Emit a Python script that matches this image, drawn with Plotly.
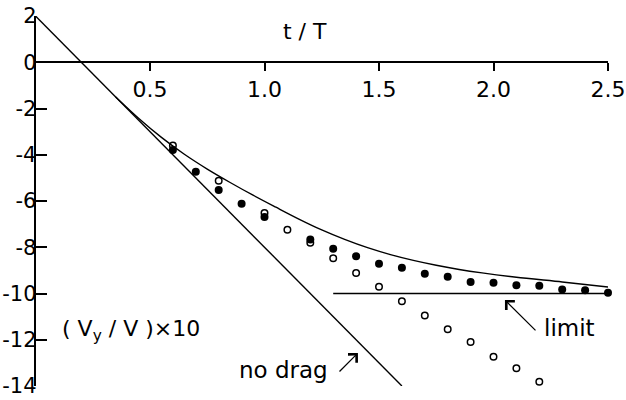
import plotly.graph_objects as go

# ---- data ----
curve_t = [0.35, 0.45, 0.55, 0.65, 0.75, 0.85, 0.95, 1.05, 1.15, 1.25, 1.35, 1.45,
           1.55, 1.65, 1.75, 1.85, 1.95, 2.1, 2.3, 2.5]
curve_v = [-1.5, -2.42, -3.25, -3.98, -4.62, -5.2, -5.75, -6.27, -6.78, -7.25, -7.66, -8.02,
           -8.32, -8.57, -8.78, -8.96, -9.11, -9.3, -9.5, -9.72]

filled_t = [0.6, 0.7, 0.8, 0.9, 1.0, 1.2, 1.3, 1.4, 1.5, 1.6, 1.7, 1.8, 1.9, 2.0,
            2.1, 2.2, 2.3, 2.4, 2.5]
filled_v = [-3.79, -4.73, -5.52, -6.12, -6.69, -7.67, -8.07, -8.39, -8.71, -8.89, -9.15,
            -9.28, -9.50, -9.54, -9.64, -9.66, -9.83, -9.86, -9.97]

open_t = [0.6, 0.8, 1.0, 1.1, 1.2, 1.3, 1.4, 1.5, 1.6, 1.7, 1.8, 1.9, 2.0, 2.1, 2.2]
open_v = [-3.6, -5.12, -6.52, -7.24, -7.81, -8.48, -9.11, -9.71, -10.33, -10.95, -11.55,
          -12.1, -12.73, -13.23, -13.82]

nodrag_t = [0.0, 1.6]
nodrag_v = [2.0, -14.0]

limit_t = [1.3, 2.5]
limit_v = [-10.0, -10.0]

x_ticks = [0.5, 1.0, 1.5, 2.0, 2.5]
x_tick_labels = ["0.5", "1.0", "1.5", "2.0", "2.5"]
y_ticks = [2, 0, -2, -4, -6, -8, -10, -12, -14]
y_tick_labels = ["2", "0", "-2", "-4", "-6", "-8", "-10", "-12", "-14"]

FONT = "DejaVu Sans"
W, H = 626, 400

fig = go.Figure()
fig.add_trace(go.Scatter(x=nodrag_t, y=nodrag_v, mode="lines", line=dict(color="black", width=1.4),
                         cliponaxis=False, showlegend=False, hoverinfo="skip"))
# limit line drawn against the overlay axis (same range) so that axis carries the tick labels
fig.add_trace(go.Scatter(x=limit_t, y=limit_v, mode="lines", line=dict(color="black", width=1.6),
                         yaxis="y2", cliponaxis=False, showlegend=False, hoverinfo="skip"))
fig.add_trace(go.Scatter(x=curve_t, y=curve_v, mode="lines",
                         line=dict(color="black", width=1.4, shape="spline", smoothing=0.8),
                         cliponaxis=False, showlegend=False, hoverinfo="skip"))
fig.add_trace(go.Scatter(x=open_t, y=open_v, mode="markers",
                         marker=dict(symbol="circle-open", size=6.5, color="black", line=dict(width=1.5)),
                         cliponaxis=False, showlegend=False, hoverinfo="skip"))
fig.add_trace(go.Scatter(x=filled_t, y=filled_v, mode="markers",
                         marker=dict(symbol="circle", size=8, color="black"),
                         cliponaxis=False, showlegend=False, hoverinfo="skip"))

x0_px, x1_px = 35.5, 608.0
ytop_px, ybot_px = 16.0, 386.0
y0_frac = (H - 62.25) / H
label_px = 36.5

fig.update_layout(
    template="none",
    width=W, height=H, autosize=False,
    margin=dict(l=0, r=0, t=0, b=0, pad=0),
    paper_bgcolor="white", plot_bgcolor="white",
    font=dict(family=FONT, size=20, color="black"),
    xaxis=dict(domain=[x0_px / W, x1_px / W], range=[0, 2.5], anchor="free", position=y0_frac,
               showline=True, linecolor="black", linewidth=1.5, ticks="outside", ticklen=8,
               tickwidth=1.5, tickcolor="black", tickvals=x_ticks, ticktext=x_tick_labels,
               tickfont=dict(family=FONT, size=22), showgrid=False, zeroline=False, automargin=False),
    yaxis=dict(domain=[(H - ybot_px) / H, (H - ytop_px) / H], range=[-14, 2], anchor="x",
               showline=True, linecolor="black", linewidth=1.5, ticks="inside", ticklen=12,
               tickwidth=1.5, tickcolor="black", tickvals=y_ticks, showticklabels=False,
               showgrid=False, zeroline=False, automargin=False),
    yaxis2=dict(overlaying="y", range=[-14, 2], anchor="free", position=label_px / W, side="left",
                showline=False, ticks="", tickvals=y_ticks, ticktext=y_tick_labels,
                tickfont=dict(family=FONT, size=21), showgrid=False, zeroline=False, automargin=False),
)

# text labels
fig.add_annotation(x=1.177, y=1.35, xref="x", yref="y", text="t / T", showarrow=False,
                   font=dict(size=22), xanchor="center", yanchor="middle")
fig.add_annotation(x=0.107, y=-11.6, xref="x", yref="y",
                   text="( V<sub>y</sub> / V )×10", showarrow=False,
                   font=dict(size=22), xanchor="left", yanchor="middle")
fig.add_annotation(x=0.88, y=-13.3, xref="x", yref="y", text="no drag", showarrow=False,
                   font=dict(size=23), xanchor="left", yanchor="middle")
fig.add_annotation(x=2.211, y=-11.5, xref="x", yref="y", text="limit", showarrow=False,
                   font=dict(size=23), xanchor="left", yanchor="middle")

# arrows
fig.add_annotation(x=1.408, y=-12.57, ax=1.321, ay=-13.44, xref="x", yref="y", axref="x", ayref="y",
                   text="", showarrow=True, arrowhead=4, arrowsize=1.8, arrowwidth=1.3, arrowcolor="black")
fig.add_annotation(x=2.05, y=-10.28, ax=2.19, ay=-11.66, xref="x", yref="y", axref="x", ayref="y",
                   text="", showarrow=True, arrowhead=4, arrowsize=1.8, arrowwidth=1.3, arrowcolor="black")

fig.write_html("out.html", config={"displayModeBar": False},
               post_script="document.body.style.margin='0px';")
